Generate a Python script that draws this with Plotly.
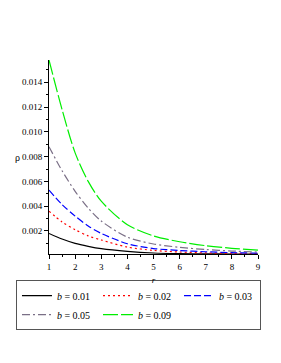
import plotly.graph_objects as go

r = [1, 1.5, 2, 2.5, 3, 4, 5, 6, 7, 8, 9]
rho_b001 = [0.0018, 0.00135, 0.0010, 0.00076, 0.00057, 0.00035, 0.00022, 0.00017, 0.00015, 0.00014, 0.00013]
rho_b002 = [0.0036, 0.00273, 0.0021, 0.0016, 0.00127, 0.0007, 0.00043, 0.0003, 0.00023, 0.00019, 0.00017]
rho_b003 = [0.0053, 0.00413, 0.0032, 0.0024, 0.0018, 0.00097, 0.00058, 0.00042, 0.00032, 0.00025, 0.00021]
rho_b005 = [0.0088, 0.00686, 0.0052, 0.00384, 0.0028, 0.0015, 0.00095, 0.00068, 0.0005, 0.00038, 0.0003]
rho_b009 = [0.0158, 0.0118, 0.0083, 0.0060, 0.0044, 0.0025, 0.0016, 0.00113, 0.00081, 0.0006, 0.00046]

names = ["<i>b</i> = 0.01", "<i>b</i> = 0.02", "<i>b</i> = 0.03", "<i>b</i> = 0.05", "<i>b</i> = 0.09"]
series = [rho_b001, rho_b002, rho_b003, rho_b005, rho_b009]
colors = ["#000000", "#ff0000", "#0000ff", "#7a6f86", "#00ee00"]
dashes = ["solid", "2px,3px", "7px,3px", "8px,3px,2px,3px", "15px,3px"]

fig = go.Figure()
for name, ys, c, d in zip(names, series, colors, dashes):
    fig.add_trace(go.Scatter(x=r, y=ys, mode="lines", name=name,
                             line=dict(color=c, width=1.2, dash=d, shape="spline", smoothing=0.8)))

font_family = "Liberation Serif"
# page body has an 8px default margin, so the figure is 8px smaller and shifted
fig.update_layout(
    width=273, height=355,
    margin=dict(l=41, r=23, t=52, b=109, autoexpand=False),
    paper_bgcolor="white", plot_bgcolor="white",
    font=dict(family=font_family, size=9, color="black"),
    showlegend=True,
    legend=dict(orientation="h", x=-0.158, y=-0.135, xanchor="left", yanchor="top",
                bordercolor="#555555", borderwidth=1, bgcolor="white",
                font=dict(family=font_family, size=10, color="black"),
                entrywidth=36, entrywidthmode="pixels", tracegroupgap=0,
                itemwidth=30),
    xaxis=dict(range=[1, 9], tickmode="array", tickvals=[1, 2, 3, 4, 5, 6, 7, 8, 9],
               ticktext=["1", "2", "3", "4", "5", "6", "7", "8", "9"],
               showline=True, linecolor="black", linewidth=1, showgrid=False, zeroline=False,
               ticks="outside", ticklen=4, tickcolor="black",
               minor=dict(dtick=0.5, ticks="outside", ticklen=2, tickcolor="black", showgrid=False),
               tickfont=dict(family=font_family, size=9, color="black"),
               title=dict(text="<i>r</i>", standoff=5, font=dict(family=font_family, size=9))),
    yaxis=dict(range=[0.00014, 0.0158], tickmode="array",
               tickvals=[0.002, 0.004, 0.006, 0.008, 0.010, 0.012, 0.014],
               ticktext=["0.002", "0.004", "0.006", "0.008", "0.010", "0.012", "0.014"],
               showline=True, linecolor="black", linewidth=1, showgrid=False, zeroline=False,
               ticks="outside", ticklen=4, tickcolor="black",
               minor=dict(tickvals=[0.001, 0.003, 0.005, 0.007, 0.009, 0.011, 0.013, 0.015],
                          ticks="outside", ticklen=2, tickcolor="black", showgrid=False),
               tickfont=dict(family=font_family, size=9, color="black")),
    annotations=[dict(text="ρ", xref="paper", yref="paper", x=-0.153, y=0.5,
                      xanchor="center", showarrow=False,
                      font=dict(family=font_family, size=10, color="black"))],
)

fig.write_html("out.html")
